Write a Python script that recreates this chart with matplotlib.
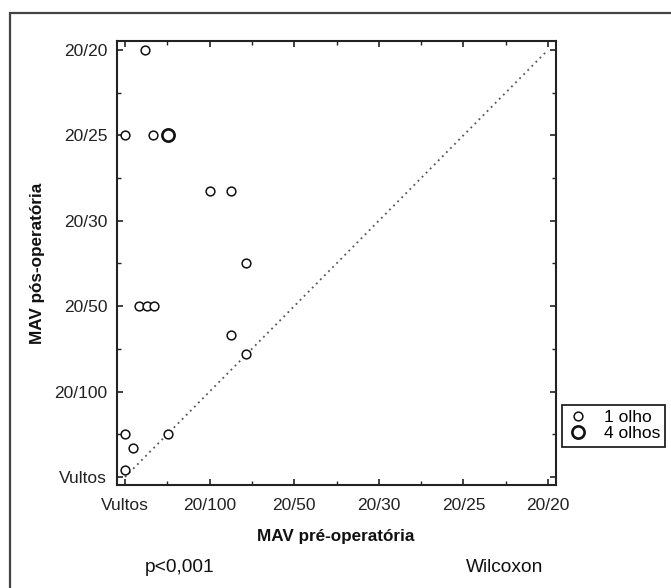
import matplotlib
matplotlib.use("Agg")
import matplotlib.pyplot as plt
from matplotlib.lines import Line2D
from matplotlib.patches import Rectangle

plt.rcParams['font.family'] = ['Liberation Sans', 'DejaVu Sans']

# Visual acuity categories (index 0 = Vultos ... 5 = 20/20)
acuity_labels = ["Vultos", "20/100", "20/50", "20/30", "20/25", "20/20"]

# Single-eye observations (pre-op, post-op) in category units
pre_1 = [0.24, 0.00, 0.33, 1.00, 1.25, 1.43, 0.17, 0.26, 0.34, 1.25, 1.43, 0.00, 0.09, 0.00, 0.51]
post_1 = [5.00, 4.00, 4.00, 3.35, 3.35, 2.51, 2.00, 2.00, 2.00, 1.66, 1.44, 0.50, 0.34, 0.08, 0.50]
# Observation representing 4 eyes
pre_4 = [0.51]
post_4 = [4.00]

legend_labels = ["1 olho", "4 olhos"]
p_text = "p<0,001"
test_text = "Wilcoxon"

W, H = 671, 588
fig = plt.figure(figsize=(W / 100, H / 100), dpi=100)

# outer frame
fig.patches.append(Rectangle((10 / W, -0.1), 1.2, 1 - 13 / H + 0.1, transform=fig.transFigure,
                             fill=False, edgecolor='#444444', linewidth=1.6))

ax = fig.add_axes([117 / W, 1 - 485 / H, (556 - 117) / W, (485 - 41) / H])
ax.set_xlim(-0.095, 5.095)
ax.set_ylim(-0.094, 5.105)

ax.plot([0, 5], [0, 5], linestyle=(0, (1, 2.2)), color='#555555', linewidth=1.3, zorder=1)

ax.plot(pre_1, post_1, linestyle='none', marker='o', markersize=6.3, markerfacecolor='white',
        markeredgecolor='#111111', markeredgewidth=1.1, zorder=3)
ax.plot(pre_4, post_4, linestyle='none', marker='o', markersize=8.8, markerfacecolor='white',
        markeredgecolor='#111111', markeredgewidth=1.9, zorder=4)

ticks = list(range(len(acuity_labels)))
ax.set_xticks(ticks)
ax.set_xticklabels(acuity_labels)
ax.set_yticks(ticks)
ax.set_yticklabels(acuity_labels)
ax.set_xticks([t + 0.5 for t in ticks[:-1]], minor=True)
ax.set_yticks([t + 0.5 for t in ticks[:-1]], minor=True)
ax.tick_params(which='both', direction='in', top=True, right=True, color='#222222')
ax.tick_params(which='major', length=4, width=1.2, labelsize=12.5, labelcolor='#222222')
ax.tick_params(axis='x', which='major', pad=9.5)
ax.tick_params(axis='y', which='major', pad=7)
ax.tick_params(which='minor', length=3, width=1.0)
for s in ax.spines.values():
    s.set_linewidth(1.5)
    s.set_color('#222222')

fig.text(336 / W, 1 - 537 / H, "MAV pré-operatória", ha='center', va='center',
         fontsize=12.3, fontweight='bold', color='#111111')
fig.text(38 / W, 1 - 263 / H, "MAV pós-operatória", ha='center', va='center',
         rotation=90, fontsize=12.3, fontweight='bold', color='#111111')

fig.text(180 / W, 1 - 568 / H, p_text, ha='center', va='center', fontsize=13.8, color='#111111')
fig.text(505 / W, 1 - 568 / H, test_text, ha='center', va='center', fontsize=13.8, color='#111111')

handles = [
    Line2D([], [], linestyle='none', marker='o', markersize=6.3, markerfacecolor='white',
           markeredgecolor='#111111', markeredgewidth=1.1),
    Line2D([], [], linestyle='none', marker='o', markersize=8.8, markerfacecolor='white',
           markeredgecolor='#111111', markeredgewidth=1.9),
]
leg = ax.legend(handles, legend_labels, loc='upper left',
                bbox_to_anchor=(562 / W, 1 - 405 / H), bbox_transform=fig.transFigure,
                borderaxespad=0, fancybox=False, edgecolor='#222222', framealpha=1,
                fontsize=12.5, handlelength=1.2, handletextpad=0.9, borderpad=0.3,
                labelspacing=0.05)
leg.get_frame().set_linewidth(1.3)

fig.savefig("out.png", dpi=100, facecolor='white')
